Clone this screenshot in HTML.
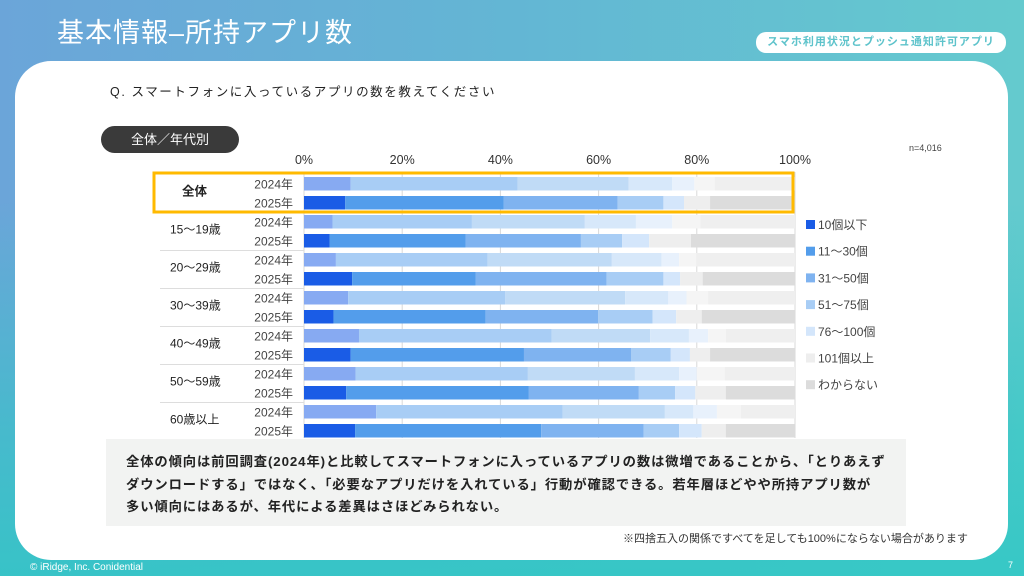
<!DOCTYPE html>
<html><head><meta charset="utf-8">
<style>
*{margin:0;padding:0;box-sizing:border-box}
body{width:1024px;height:576px;overflow:hidden;position:relative;font-family:"Liberation Sans","Noto Sans CJK JP",sans-serif;background:linear-gradient(90deg,#6ba5d9 0%,#63b6d4 50%,#64cace 100%)}
.bgb{position:absolute;left:0;top:0;width:1024px;height:576px;background:linear-gradient(180deg,rgba(47,200,196,0) 0%,rgba(47,200,196,0) 35%,rgba(47,200,196,.6) 75%,rgba(47,200,196,.85) 100%)}
#title{position:absolute;left:57px;top:11px;font-size:27px;color:#fff;letter-spacing:1px}
#tag{position:absolute;left:756px;top:32px;width:250px;height:21px;background:#fff;border-radius:10px;color:#5ec3cb;font-weight:bold;font-size:11px;text-align:center;line-height:21px;letter-spacing:1px}
#card{position:absolute;left:15px;top:61px;width:993px;height:499px;background:#fff;border-radius:36px}
#q{position:absolute;left:110px;top:81px;font-size:12.5px;color:#222;letter-spacing:1.6px}
#pill{position:absolute;left:101px;top:126px;width:138px;height:27px;background:#3a3a3a;border-radius:14px;color:#fff;font-size:13px;text-align:center;line-height:27px}
#n{position:absolute;left:909px;top:143px;font-size:9px;color:#444}
svg{position:absolute;left:0;top:0}
#summary{position:absolute;left:106px;top:439px;width:800px;height:87px;background:#f2f3f2;padding:12px 0 0 20px;font-size:13.3px;font-weight:bold;color:#222;line-height:22.5px;letter-spacing:.9px;white-space:nowrap}
#note{position:absolute;left:623px;top:530px;font-size:11px;color:#333;white-space:nowrap}
#foot{position:absolute;left:30px;top:562px;font-size:10px;color:#fff}
#page{position:absolute;left:1008px;top:560px;font-size:9px;color:#fff}
</style></head><body>
<div class="bgb"></div>
<div id="title">基本情報–所持アプリ数</div>
<div id="tag">スマホ利用状況とプッシュ通知許可アプリ</div>
<div id="card"></div>
<div id="q">Q. スマートフォンに入っているアプリの数を教えてください</div>
<div id="pill">全体／年代別</div>
<div id="n">n=4,016</div>
<svg id="chart" width="1024" height="576"></svg>
<div id="summary">全体の傾向は前回調査(2024年)と比較してスマートフォンに入っているアプリの数は微増であることから、「とりあえず<br>ダウンロードする」ではなく、「必要なアプリだけを入れている」行動が確認できる。若年層ほどやや所持アプリ数が<br>多い傾向にはあるが、年代による差異はさほどみられない。</div>
<div id="note">※四捨五入の関係ですべてを足しても100%にならない場合があります</div>
<div id="foot">© iRidge, Inc. Conidential</div>
<div id="page">7</div>
<script>
const groups=["全体","15〜19歳","20〜29歳","30〜39歳","40〜49歳","50〜59歳","60歳以上"];
const years=["2024年","2025年"];
const categories=["10個以下","11〜30個","31〜50個","51〜75個","76〜100個","101個以上","わからない"];
const ticks=[0,20,40,60,80,100];
const s10=[9.5,8.4,5.8,5.2,6.5,9.8,9.0,6.0,11.2,9.5,10.5,8.6,14.7,10.4];
const s30=[34.0,32.3,28.4,27.7,30.9,25.2,32.0,31.0,39.2,35.3,35.1,37.2,38.0,37.9];
const s50=[22.6,23.2,23.0,23.5,25.3,26.6,24.4,22.9,20.1,21.8,21.8,22.4,20.8,20.9];
const s75=[8.9,9.3,10.4,8.4,10.1,11.6,8.8,11.1,7.9,8.1,9.0,7.4,5.8,7.2];
const s100=[4.5,4.2,7.4,5.5,3.6,3.4,3.7,4.8,3.9,3.9,3.6,4.1,4.8,4.6];
const s101=[4.2,5.3,5.7,8.5,3.6,4.6,4.4,5.2,3.6,4.1,5.7,6.2,4.9,4.9];
const sdk=[16.3,17.3,19.3,21.2,20.0,18.8,17.7,19.0,14.1,17.3,14.3,14.1,11.0,14.1];
const series=[s10,s30,s50,s75,s100,s101,sdk];
const c25=["#1a5ce6","#539deb","#7fb3f0","#a8cdf5","#d4e6fb","#eeeeee","#dcdcdc"];
const c24=["#87aaf2","#a8cdf5","#c0dbf6","#d7e8fa","#e8f1fc","#f5f5f5","#efefef"];
const NS="http://www.w3.org/2000/svg";
const svg=document.getElementById('chart');
const x0=304,x1=795,top0=177,step=19,bh=13.5;
const xs=v=>x0+(x1-x0)*v/100;
const rowY=i=>top0+step*i;
function mk(t,a){const e=document.createElementNS(NS,t);for(const k in a)e.setAttribute(k,a[k]);svg.appendChild(e);return e;}
ticks.forEach(t=>{
 const l=mk('line',{x1:xs(t),x2:xs(t),y1:172,y2:438,stroke:'#d8d8d8','stroke-width':1});
 
 
 const tx=mk('text',{x:xs(t),y:164,'text-anchor':'middle','font-size':12.5,fill:'#333'});
 tx.textContent=t+'%';
 
 
});
for(let i=0;i<s10.length;i++){
 let acc=0;const y=rowY(i);const yr=i%2;
 series.forEach((s,k)=>{
  const r=mk('rect',{x:xs(acc),y:y,width:Math.max(0,xs(acc+s[i])-xs(acc)),height:bh,fill:(yr?c25:c24)[k]});
  
  
  acc+=s[i];
 });
 const t=mk('text',{x:293,y:y+11.5,'text-anchor':'end','font-size':12,fill:'#444'});
 t.textContent=years[yr];
 
 
}
groups.forEach((g,j)=>{
 const y=rowY(2*j)+step/2+8;
 const t=mk('text',{x:j==0?182:170,y:y+1,'font-size':j==0?12.5:12,'font-weight':j==0?'bold':'normal',fill:'#222'});
 t.textContent=g;
 
 
 if(j>0){const l=mk('line',{x1:160,x2:304,y1:rowY(2*j)-2.5,y2:rowY(2*j)-2.5,stroke:'#ddd'});
 
 }
});
const hl=mk('rect',{x:154,y:173,width:639,height:39,fill:'none',stroke:'#ffba00','stroke-width':3});


categories.forEach((c,k)=>{
 const y=225+k*26.7;
 const r=mk('rect',{x:806,y:y-5,width:9,height:9,fill:c25[k]});
 
 
 const t=mk('text',{x:818,y:y+4,'font-size':12,fill:'#444'});
 t.textContent=c;
 
 
});
</script>
</body></html>
